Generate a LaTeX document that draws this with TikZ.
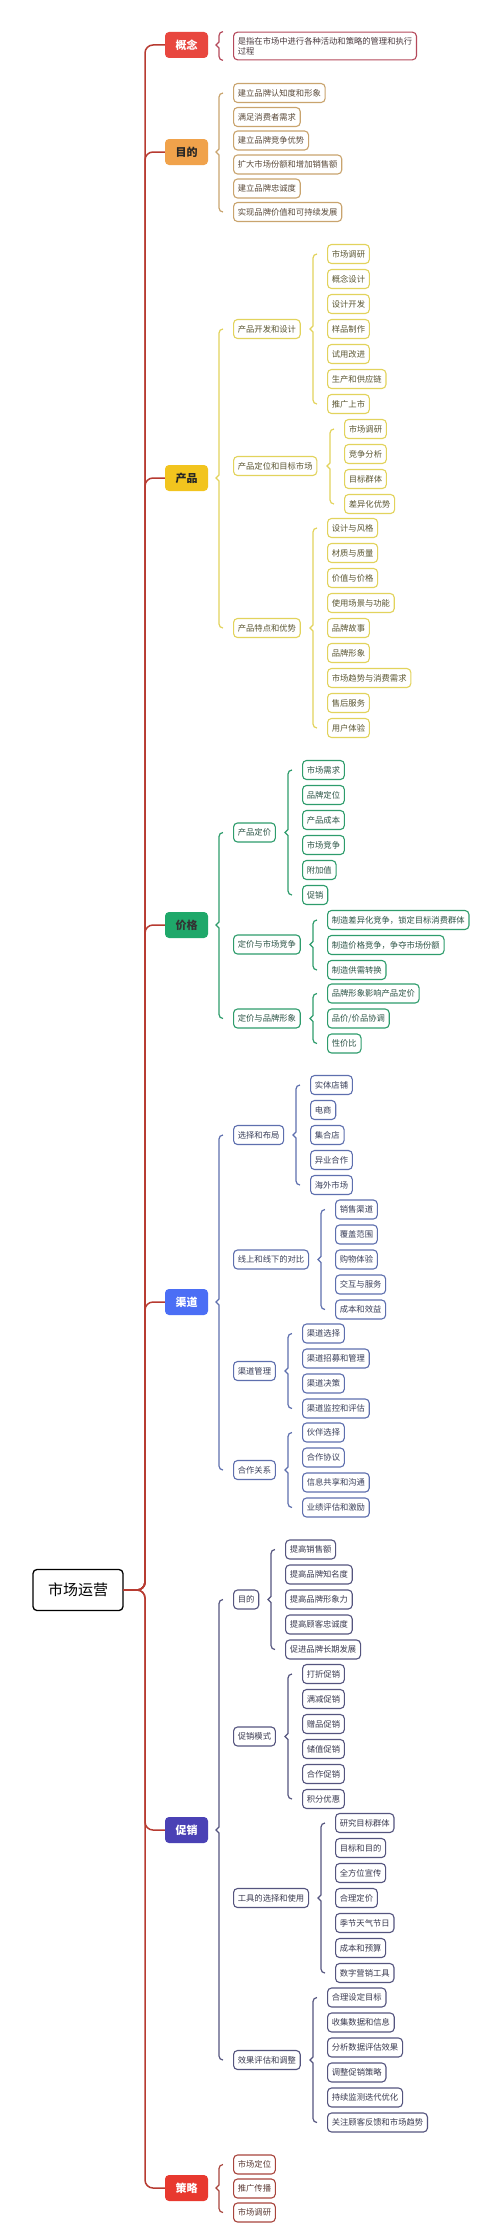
\documentclass[tikz,border=0pt]{standalone}
\usepackage{fontspec}
\newfontfamily\cjk{Noto Sans CJK SC}
\usetikzlibrary{calc}

\definecolor{trunkc}{HTML}{B73B31}
\definecolor{gaiF}{HTML}{E8473F}\definecolor{gaiL}{HTML}{B5495B}\definecolor{gaiT}{HTML}{4A3A3E}
\definecolor{muF}{HTML}{F0A24B}\definecolor{muL}{HTML}{C9A46E}\definecolor{muT}{HTML}{5A4A3A}
\definecolor{cpF}{HTML}{F2C41E}\definecolor{cpL}{HTML}{E2D35C}\definecolor{cpT}{HTML}{5A5632}
\definecolor{jgF}{HTML}{1FA86A}\definecolor{jgL}{HTML}{2E9C6C}\definecolor{jgT}{HTML}{2C5446}
\definecolor{qdF}{HTML}{4B6EF5}\definecolor{qdL}{HTML}{5E6FAE}\definecolor{qdT}{HTML}{3A3F5A}
\definecolor{cxF}{HTML}{4A41B5}\definecolor{cxL}{HTML}{55557F}\definecolor{cxT}{HTML}{3A3A50}
\definecolor{clF}{HTML}{E8392F}\definecolor{clL}{HTML}{A8443C}\definecolor{clT}{HTML}{5A3A35}

% brace: colour, parent, first child anchor, last child anchor
\newcommand{\brc}[4]{%
  \draw[#1, line width=1.2pt] let \p1=(#2.east), \p2=(#3), \p3=(#4) in
    (\x2-10pt,\y2) to[out=180,in=90] (\x2-14pt,\y2-4pt) -- (\x2-14pt,\y1+3pt)
    -- (\x2-17pt,\y1) -- (\x2-14pt,\y1-3pt) -- (\x2-14pt,\y3+4pt)
    to[out=-90,in=180] (\x2-10pt,\y3);}

\begin{document}
\begin{tikzpicture}[x=1pt, y=-1pt,
  root/.style = {draw=black, line width=1.3pt, rounded corners=4pt, fill=white,
    font=\cjk\fontsize{15}{18}\selectfont, minimum height=41pt, inner xsep=15pt},
  cat/.style = {rounded corners=4pt, minimum width=43pt, minimum height=26pt,
    inner sep=0pt, font=\cjk\bfseries\fontsize{11}{13}\selectfont},
  leaf/.style = {draw, line width=1.1pt, rounded corners=4pt, fill=white, anchor=west,
    minimum height=19pt, inner xsep=4.3pt, inner ysep=0pt,
    font=\cjk\fontsize{8.3}{10}\selectfont},
  gai/.style = {leaf, draw=gaiL, text=gaiT},
  mu/.style = {leaf, draw=muL, text=muT},
  cp/.style = {leaf, draw=cpL, text=cpT},
  jg/.style = {leaf, draw=jgL, text=jgT},
  qd/.style = {leaf, draw=qdL, text=qdT},
  cx/.style = {leaf, draw=cxL, text=cxT},
  cl/.style = {leaf, draw=clL, text=clT},
  trunk/.style = {draw=trunkc, line width=1.5pt, rounded corners=8pt}]
  \useasboundingbox (0,0) rectangle (500,2240);

  \node[root] (root) at (78,1590) {市场运营};
  \coordinate (tr) at (145,0);

  \node[cat, fill=gaiF, text=white] (k1) at (186.5,45) {概念};
  \node[cat, fill=muF, text=black!85] (k2) at (186.5,152) {目的};
  \node[cat, fill=cpF, text=black!85] (k3) at (186.5,478) {产品};
  \node[cat, fill=jgF, text=black!80] (k4) at (186.5,925) {价格};
  \node[cat, fill=qdF, text=white] (k5) at (186.5,1302) {渠道};
  \node[cat, fill=cxF, text=white] (k6) at (186.5,1830) {促销};
  \node[cat, fill=clF, text=white] (k7) at (186.5,2188) {策略};

  \draw[trunk] (root.east) -- (root.east -| tr) -- (tr |- k1.west) -- (k1.west);
  \draw[trunk] (root.east) -- (root.east -| tr) -- (tr |- k2.west) -- (k2.west);
  \draw[trunk] (root.east) -- (root.east -| tr) -- (tr |- k3.west) -- (k3.west);
  \draw[trunk] (root.east) -- (root.east -| tr) -- (tr |- k4.west) -- (k4.west);
  \draw[trunk] (root.east) -- (root.east -| tr) -- (tr |- k5.west) -- (k5.west);
  \draw[trunk] (root.east) -- (root.east -| tr) -- (tr |- k6.west) -- (k6.west);
  \draw[trunk] (root.east) -- (root.east -| tr) -- (tr |- k7.west) -- (k7.west);

  % 概念
  \node[gai, align=left, inner ysep=5pt] (g1) at (233,46) {是指在市场中进行各种活动和策略的管理和执行\\过程};
  \brc{gaiL}{k1}{g1.north west}{g1.south west}

  % 目的
  \node[mu] (m1) at (233,93) {建立品牌认知度和形象};
  \node[mu] (m2) at (233,117) {满足消费者需求};
  \node[mu] (m3) at (233,140.5) {建立品牌竞争优势};
  \node[mu] (m4) at (233,164.5) {扩大市场份额和增加销售额};
  \node[mu] (m5) at (233,188.5) {建立品牌忠诚度};
  \node[mu] (m6) at (233,212) {实现品牌价值和可持续发展};
  \brc{muL}{k2}{m1.west}{m6.west}

  % 产品
  \node[cp] (p1) at (233,329) {产品开发和设计};
  \node[cp] (p1a) at (327,254) {市场调研};
  \node[cp] (p1b) at (327,279) {概念设计};
  \node[cp] (p1c) at (327,304) {设计开发};
  \node[cp] (p1d) at (327,329) {样品制作};
  \node[cp] (p1e) at (327,354) {试用改进};
  \node[cp] (p1f) at (327,379) {生产和供应链};
  \node[cp] (p1g) at (327,404) {推广上市};
  \node[cp] (p2) at (233,466) {产品定位和目标市场};
  \node[cp] (p2a) at (344,429) {市场调研};
  \node[cp] (p2b) at (344,454) {竞争分析};
  \node[cp] (p2c) at (344,479) {目标群体};
  \node[cp] (p2d) at (344,504) {差异化优势};
  \node[cp] (p3) at (233,628) {产品特点和优势};
  \node[cp] (p3a) at (327,528) {设计与风格};
  \node[cp] (p3b) at (327,553) {材质与质量};
  \node[cp] (p3c) at (327,578) {价值与价格};
  \node[cp] (p3d) at (327,603) {使用场景与功能};
  \node[cp] (p3e) at (327,628) {品牌故事};
  \node[cp] (p3f) at (327,653) {品牌形象};
  \node[cp] (p3g) at (327,678) {市场趋势与消费需求};
  \node[cp] (p3h) at (327,703) {售后服务};
  \node[cp] (p3i) at (327,728) {用户体验};
  \brc{cpL}{k3}{p1.west}{p3.west}
  \brc{cpL}{p1}{p1a.west}{p1g.west}
  \brc{cpL}{p2}{p2a.west}{p2d.west}
  \brc{cpL}{p3}{p3a.west}{p3i.west}

  % 价格
  \node[jg] (q1) at (233,832.5) {产品定价};
  \node[jg] (q1a) at (302,770) {市场需求};
  \node[jg] (q1b) at (302,795) {品牌定位};
  \node[jg] (q1c) at (302,820) {产品成本};
  \node[jg] (q1d) at (302,845) {市场竞争};
  \node[jg] (q1e) at (302,870) {附加值};
  \node[jg] (q1f) at (302,895) {促销};
  \node[jg] (q2) at (233,944.5) {定价与市场竞争};
  \node[jg] (q2a) at (327,920) {制造差异化竞争，锁定目标消费群体};
  \node[jg] (q2b) at (327,945) {制造价格竞争，争夺市场份额};
  \node[jg] (q2c) at (327,970) {制造供需转换};
  \node[jg] (q3) at (233,1018.5) {定价与品牌形象};
  \node[jg] (q3a) at (327,993.5) {品牌形象影响产品定价};
  \node[jg] (q3b) at (327,1018.5) {品价/价品协调};
  \node[jg] (q3c) at (327,1043.5) {性价比};
  \brc{jgL}{k4}{q1.west}{q3.west}
  \brc{jgL}{q1}{q1a.west}{q1f.west}
  \brc{jgL}{q2}{q2a.west}{q2c.west}
  \brc{jgL}{q3}{q3a.west}{q3c.west}

  % 渠道
  \node[qd] (r1) at (233,1135) {选择和布局};
  \node[qd] (r1a) at (310,1085) {实体店铺};
  \node[qd] (r1b) at (310,1110) {电商};
  \node[qd] (r1c) at (310,1135) {集合店};
  \node[qd] (r1d) at (310,1160) {异业合作};
  \node[qd] (r1e) at (310,1185) {海外市场};
  \node[qd] (r2) at (233,1259.5) {线上和线下的对比};
  \node[qd] (r2a) at (335,1209.5) {销售渠道};
  \node[qd] (r2b) at (335,1234.5) {覆盖范围};
  \node[qd] (r2c) at (335,1259.5) {购物体验};
  \node[qd] (r2d) at (335,1284.5) {交互与服务};
  \node[qd] (r2e) at (335,1309.5) {成本和效益};
  \node[qd] (r3) at (233,1371) {渠道管理};
  \node[qd] (r3a) at (302,1333.5) {渠道选择};
  \node[qd] (r3b) at (302,1358.5) {渠道招募和管理};
  \node[qd] (r3c) at (302,1383.5) {渠道决策};
  \node[qd] (r3d) at (302,1408.5) {渠道监控和评估};
  \node[qd] (r4) at (233,1470) {合作关系};
  \node[qd] (r4a) at (302,1432.5) {伙伴选择};
  \node[qd] (r4b) at (302,1457.5) {合作协议};
  \node[qd] (r4c) at (302,1482.5) {信息共享和沟通};
  \node[qd] (r4d) at (302,1507.5) {业绩评估和激励};
  \brc{qdL}{k5}{r1.west}{r4.west}
  \brc{qdL}{r1}{r1a.west}{r1e.west}
  \brc{qdL}{r2}{r2a.west}{r2e.west}
  \brc{qdL}{r3}{r3a.west}{r3d.west}
  \brc{qdL}{r4}{r4a.west}{r4d.west}

  % 促销
  \node[cx] (s1) at (233,1599.5) {目的};
  \node[cx] (s1a) at (285,1549.5) {提高销售额};
  \node[cx] (s1b) at (285,1574.5) {提高品牌知名度};
  \node[cx] (s1c) at (285,1599.5) {提高品牌形象力};
  \node[cx] (s1d) at (285,1624.5) {提高顾客忠诚度};
  \node[cx] (s1e) at (285,1649.5) {促进品牌长期发展};
  \node[cx] (s2) at (233,1736.5) {促销模式};
  \node[cx] (s2a) at (302,1674) {打折促销};
  \node[cx] (s2b) at (302,1699) {满减促销};
  \node[cx] (s2c) at (302,1724) {赠品促销};
  \node[cx] (s2d) at (302,1749) {储值促销};
  \node[cx] (s2e) at (302,1774) {合作促销};
  \node[cx] (s2f) at (302,1799) {积分优惠};
  \node[cx] (s3) at (233,1898) {工具的选择和使用};
  \node[cx] (s3a) at (335,1823) {研究目标群体};
  \node[cx] (s3b) at (335,1848) {目标和目的};
  \node[cx] (s3c) at (335,1873) {全方位宣传};
  \node[cx] (s3d) at (335,1898) {合理定价};
  \node[cx] (s3e) at (335,1923) {季节天气节日};
  \node[cx] (s3f) at (335,1948) {成本和预算};
  \node[cx] (s3g) at (335,1973) {数字营销工具};
  \node[cx] (s4) at (233,2060) {效果评估和调整};
  \node[cx] (s4a) at (327,1997.5) {合理设定目标};
  \node[cx] (s4b) at (327,2022.5) {收集数据和信息};
  \node[cx] (s4c) at (327,2047.5) {分析数据评估效果};
  \node[cx] (s4d) at (327,2072.5) {调整促销策略};
  \node[cx] (s4e) at (327,2097.5) {持续监测迭代优化};
  \node[cx] (s4f) at (327,2122.5) {关注顾客反馈和市场趋势};
  \brc{cxL}{k6}{s1.west}{s4.west}
  \brc{cxL}{s1}{s1a.west}{s1e.west}
  \brc{cxL}{s2}{s2a.west}{s2f.west}
  \brc{cxL}{s3}{s3a.west}{s3g.west}
  \brc{cxL}{s4}{s4a.west}{s4f.west}

  % 策略
  \node[cl] (t1) at (233,2164.5) {市场定位};
  \node[cl] (t2) at (233,2188.5) {推广传播};
  \node[cl] (t3) at (233,2212.5) {市场调研};
  \brc{clL}{k7}{t1.west}{t3.west}
\end{tikzpicture}
\end{document}
